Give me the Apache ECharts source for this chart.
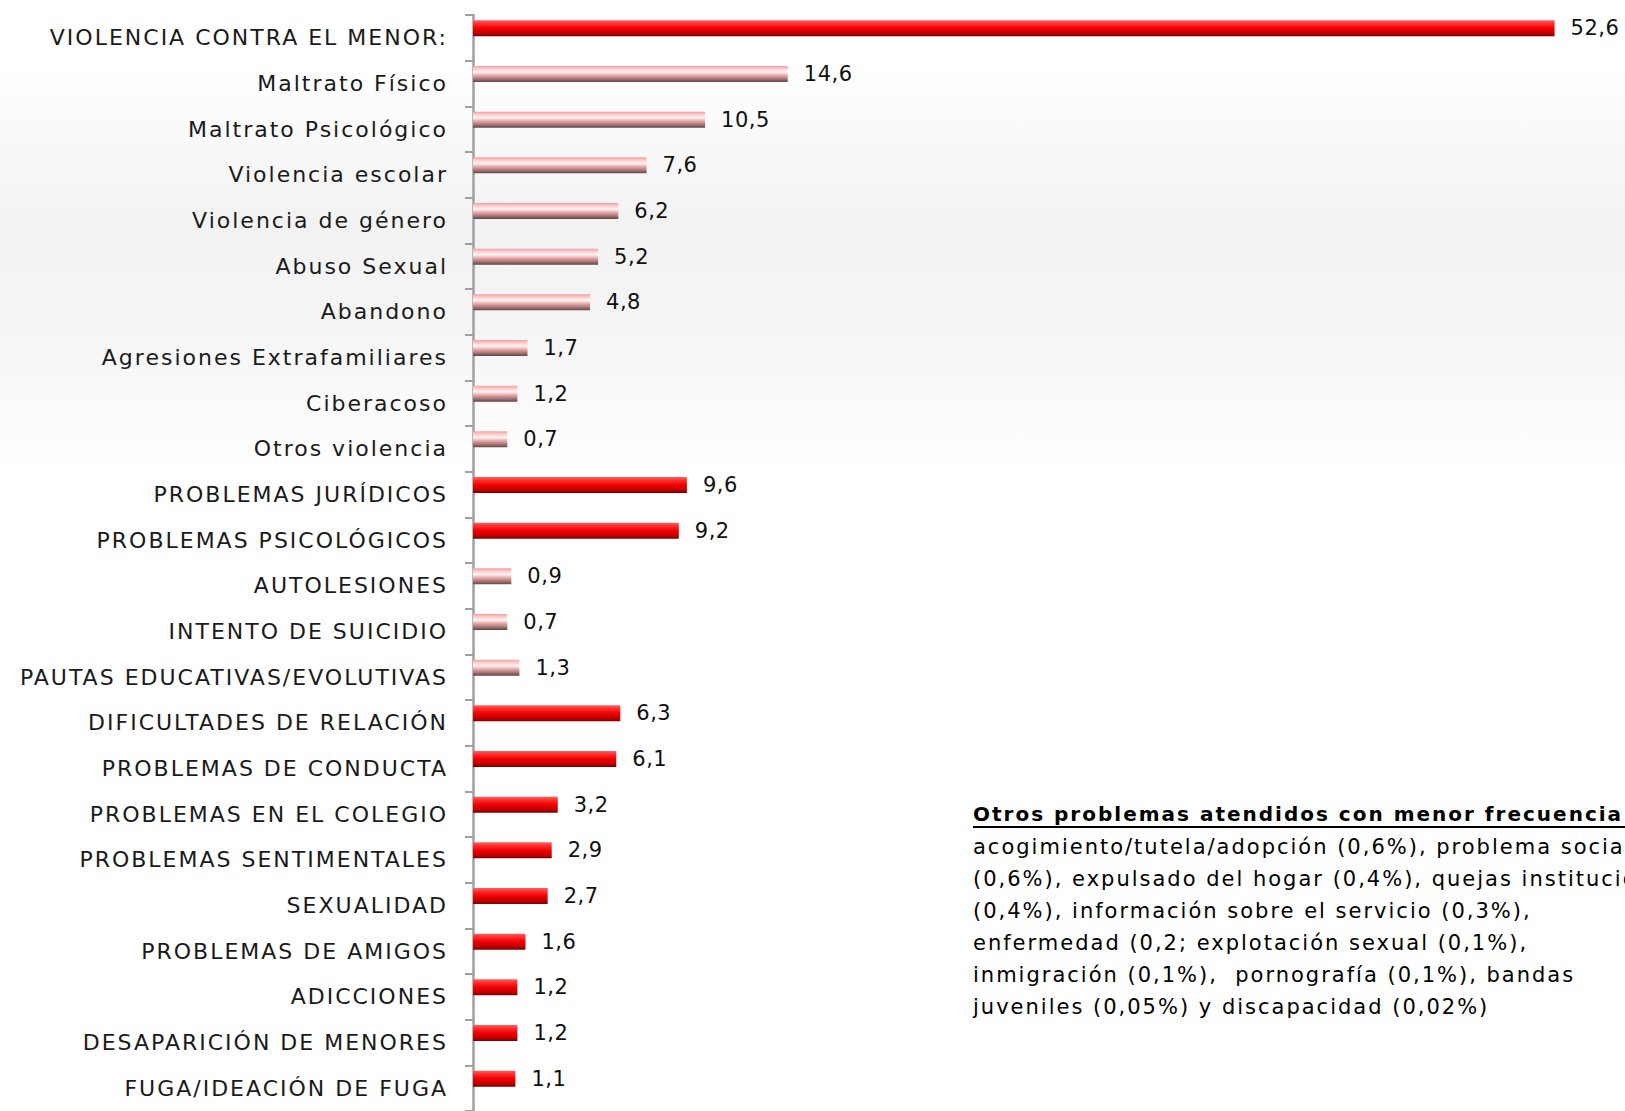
<!DOCTYPE html>
<html>
<head>
<meta charset="utf-8">
<script src="https://cdn.jsdelivr.net/npm/echarts@6/dist/echarts.min.js"></script>
<style>
html,body{margin:0;padding:0;background:#fff;}
#chart{width:1625px;height:1111px;}
#chart text{letter-spacing:2px;}
#chart text[fill="#101010"]{letter-spacing:0.5px;}
</style>
</head>
<body>
<div id="chart"></div>
<script>
const categories = [
  'VIOLENCIA CONTRA EL MENOR:', 'Maltrato Físico', 'Maltrato Psicológico', 'Violencia escolar',
  'Violencia de género', 'Abuso Sexual', 'Abandono', 'Agresiones Extrafamiliares', 'Ciberacoso',
  'Otros violencia', 'PROBLEMAS JURÍDICOS', 'PROBLEMAS PSICOLÓGICOS', 'AUTOLESIONES',
  'INTENTO DE SUICIDIO', 'PAUTAS EDUCATIVAS/EVOLUTIVAS', 'DIFICULTADES DE RELACIÓN',
  'PROBLEMAS DE CONDUCTA', 'PROBLEMAS EN EL COLEGIO', 'PROBLEMAS SENTIMENTALES', 'SEXUALIDAD',
  'PROBLEMAS DE AMIGOS', 'ADICCIONES', 'DESAPARICIÓN DE MENORES', 'FUGA/IDEACIÓN DE FUGA'
];
const values = [52.6, 14.6, 10.5, 7.6, 6.2, 5.2, 4.8, 1.7, 1.2, 0.7, 9.6, 9.2, 0.9, 0.7, 1.3,
  6.3, 6.1, 3.2, 2.9, 2.7, 1.6, 1.2, 1.2, 1.1];
// 'main' = problem category, 'sub' = sub-type / minor category
const groups = ['main', 'sub', 'sub', 'sub', 'sub', 'sub', 'sub', 'sub', 'sub', 'sub', 'main', 'main',
  'sub', 'sub', 'sub', 'main', 'main', 'main', 'main', 'main', 'main', 'main', 'main', 'main'];
const noteTitle = 'Otros problemas atendidos con menor frecuencia';
const noteLines = [
  'acogimiento/tutela/adopción (0,6%), problema social',
  '(0,6%), expulsado del hogar (0,4%), quejas institucionales',
  '(0,4%), información sobre el servicio (0,3%),',
  'enfermedad (0,2; explotación sexual (0,1%),',
  'inmigración (0,1%),  pornografía (0,1%), bandas',
  'juveniles (0,05%) y discapacidad (0,02%)'
];

const FONT = 'DejaVu Sans';
const redGrad = new echarts.graphic.LinearGradient(0, 0, 0, 1, [
  {offset: 0, color: '#ff6060'}, {offset: 0.2, color: '#ff3030'}, {offset: 0.5, color: '#f00000'},
  {offset: 0.8, color: '#c00000'}, {offset: 1, color: '#780000'}
]);
const pinkGrad = new echarts.graphic.LinearGradient(0, 0, 0, 1, [
  {offset: 0, color: '#f4a0a0'}, {offset: 0.2, color: '#ffd0d0'}, {offset: 0.38, color: '#fff4f4'},
  {offset: 0.6, color: '#e8a4a4'}, {offset: 0.8, color: '#a87878'}, {offset: 1, color: '#604545'}
]);
const bgGrad = new echarts.graphic.LinearGradient(0, 0, 0, 1, [
  {offset: 0, color: '#ffffff'}, {offset: 0.06, color: '#ffffff'}, {offset: 0.2, color: '#f2f2f2'},
  {offset: 0.3, color: '#f5f5f5'}, {offset: 0.42, color: '#ffffff'}, {offset: 1, color: '#ffffff'}
]);

const chart = echarts.init(document.getElementById('chart'), null, {renderer: 'svg'});

chart.setOption({
  backgroundColor: bgGrad,
  animation: false,
  grid: {left: 473, top: 15, width: 1130, height: 1101, containLabel: false},
  xAxis: {type: 'value', min: -1, max: 55, startValue: -1, show: false},
  yAxis: {
    type: 'category', data: categories, inverse: true,
    axisLine: {show: true, onZero: false, lineStyle: {color: '#a0a0a0', width: 2.5}},
    axisTick: {show: true, length: 8, lineStyle: {color: '#a0a0a0', width: 2}},
    axisLabel: {fontFamily: FONT, fontSize: 22, color: '#1a1a1a', margin: 25, padding: [26, 0, 0, 0]}
  },
  series: [{
    type: 'bar', barWidth: 16, barGap: '0%',
    data: values.map((v, i) => ({value: v, itemStyle: {color: groups[i] === 'main' ? redGrad : pinkGrad}})),
    label: {
      show: true, position: 'right', distance: 16, fontFamily: FONT, fontSize: 21, color: '#101010',
      formatter: p => String(p.value).replace('.', ',')
    }
  }, {
    type: 'bar', barWidth: 19, barGap: '0%', silent: true,
    data: values.map(() => null), itemStyle: {color: 'rgba(0,0,0,0)'}
  }],
  graphic: [{
    type: 'text', left: 973, top: 804,
    style: {text: noteTitle, font: 'bold 20px ' + FONT, fill: '#000'}
  }, {
    type: 'line', shape: {x1: 973, y1: 827, x2: 1625, y2: 827}, style: {stroke: '#000', lineWidth: 2}
  }, {
    type: 'text', left: 973, top: 831,
    style: {text: noteLines.join('\n'), font: '21px ' + FONT, fill: '#000', lineHeight: 32}
  }]
});
</script>
</body>
</html>
